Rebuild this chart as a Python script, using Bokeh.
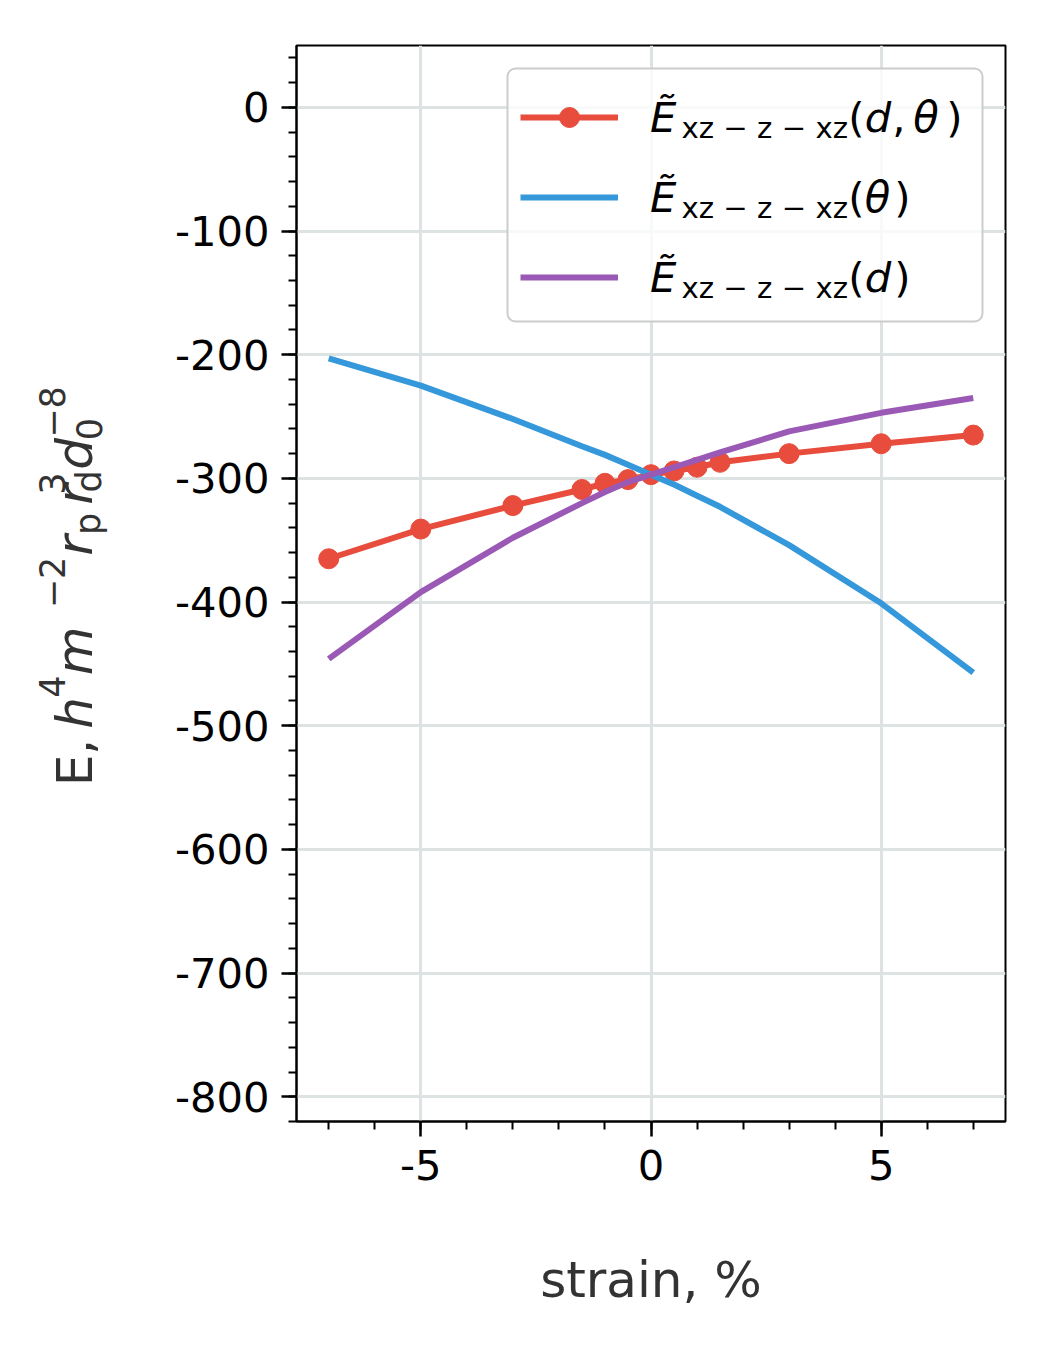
import math
from bokeh.plotting import figure
from bokeh.layouts import row
from bokeh.models import (Label, Legend, LegendItem, SingleIntervalTicker, Range1d,
                          ColumnDataSource, PrintfTickFormatter, BoxAnnotation)
from bokeh.core.properties import value
from bokeh.embed import file_html
from bokeh.resources import INLINE

# ---------------- data ----------------
strain = [-7, -5, -3, -1.5, -1, -0.5, 0, 0.5, 1, 1.5, 3, 5, 7]
E_d_theta = [-365, -341, -322, -309, -304, -301, -297, -294, -291, -287, -280, -272, -265]
E_theta = [-203, -225, -252, -274, -281, -289, -297, -305, -314, -323, -354, -401, -457]
E_d = [-446, -392, -348, -320, -311, -303, -297, -291, -285, -279, -262, -247, -235]

x_label = "strain, %"
legend_sub = "xz − z − xz"

RED, BLUE, PURPLE = "#e74c3c", "#3498db", "#9b59b6"
FONT = "DejaVu Sans"

X0, X1 = -7.7, 7.7
Y0, Y1 = -820, 50

W_TOTAL, H_TOTAL = 1040, 1340
W_LEFT = 140
# frame placement on the page (px)
FL, FT, FW, FH = 296, 45, 709, 1076
BASE_SHIFT = 0.36  # bokeh draws "alphabetic" text this fraction of the size lower


def dx(px):
    return X0 + (px - FL) / FW * (X1 - X0)


def dy(py):
    return Y1 - (py - FT) / FH * (Y1 - Y0)


p = figure(width=W_TOTAL - W_LEFT, height=H_TOTAL, x_range=Range1d(X0, X1),
           y_range=Range1d(Y0, Y1), output_backend="svg", toolbar_location=None,
           min_border_left=FL - W_LEFT, min_border_right=W_TOTAL - FL - FW,
           min_border_top=FT, min_border_bottom=H_TOTAL - FT - FH)
p.background_fill_color = "white"
p.border_fill_color = "white"
p.outline_line_color = "black"
p.outline_line_width = 2
p.outline_line_alpha = 1

xt = SingleIntervalTicker(interval=5, num_minor_ticks=5)
yt = SingleIntervalTicker(interval=100, num_minor_ticks=5)
p.xaxis.ticker = xt
p.yaxis.ticker = yt
p.xgrid.ticker = xt
p.ygrid.ticker = yt
for g in (p.xgrid, p.ygrid):
    g.grid_line_color = "#dde2e2"
    g.grid_line_width = 3

for ax in (p.xaxis, p.yaxis):
    ax.formatter = PrintfTickFormatter(format="%d")
    ax.axis_line_color = "black"
    ax.axis_line_width = 2
    ax.major_tick_line_color = "black"
    ax.major_tick_line_width = 2.5
    ax.minor_tick_line_color = "black"
    ax.minor_tick_line_width = 2
    ax.major_tick_out = 15
    ax.major_tick_in = 0
    ax.minor_tick_out = 8
    ax.minor_tick_in = 0
    ax.major_label_text_font = FONT
    ax.major_label_text_font_size = "41.7px"
    ax.major_label_text_color = "black"

p.xaxis.major_label_standoff = 13
p.yaxis.major_label_standoff = 12
p.xaxis.axis_label = x_label
p.xaxis.axis_label_text_font = FONT
p.xaxis.axis_label_text_font_size = "50px"
p.xaxis.axis_label_text_font_style = "normal"
p.xaxis.axis_label_text_color = "#333333"
p.xaxis.axis_label_standoff = 68

src = ColumnDataSource(dict(x=strain, a=E_d_theta, b=E_theta, c=E_d))
r_line = p.line("x", "a", source=src, line_color=RED, line_width=6)
r_dots = p.scatter("x", "a", source=src, size=20, fill_color=RED, line_color=RED)
b_line = p.line("x", "b", source=src, line_color=BLUE, line_width=6)
c_line = p.line("x", "c", source=src, line_color=PURPLE, line_width=6)

# legend frame (drawn separately so that the label pieces sit above it)
LB_L, LB_R, LB_T, LB_B = 507, 982, 68, 321
p.add_layout(BoxAnnotation(left=dx(LB_L), right=dx(LB_R), top=dy(LB_T), bottom=dy(LB_B),
                           fill_color="white", fill_alpha=0.8,
                           line_color="#cccccc", line_width=2, line_alpha=1,
                           border_radius=8, level="annotation"))

legend = Legend(items=[
    LegendItem(label=value("Ẽ"), renderers=[r_line, r_dots]),
    LegendItem(label=value("Ẽ"), renderers=[b_line]),
    LegendItem(label=value("Ẽ"), renderers=[c_line]),
], location="top_right", margin=20, padding=12, spacing=0,
    glyph_width=98, glyph_height=50, label_height=80, label_width=323, label_standoff=32,
    label_text_font=FONT, label_text_font_size="41.7px", label_text_font_style="italic",
    label_text_color="black",
    border_line_alpha=0, background_fill_alpha=0)
p.add_layout(legend)


def add_text(fig, txt, x, y, size, style="normal", align="left", angle=0.0, color="black"):
    fig.add_layout(Label(x=x, y=y, x_units="data", y_units="data", text=txt,
                         text_font=FONT, text_font_size=f"{size}px", text_font_style=style,
                         text_color=color, text_align=align, text_baseline="alphabetic",
                         angle=angle, level="overlay"))


# legend label remainders (subscripts and arguments)
rows = [
    (132, [("(", "normal", 856), ("d", "italic", 877.5), (",", "normal", 898.5),
           ("θ", "italic", 925.5), (")", "normal", 954)]),
    (212, [("(", "normal", 856), ("θ", "italic", 877), (")", "normal", 902)]),
    (292, [("(", "normal", 856), ("d", "italic", 877.5), (")", "normal", 902)]),
]
for base, parts in rows:
    add_text(p, legend_sub, dx(681), dy(base + 6 - BASE_SHIFT * 29.2), 29.2)
    for t, st, cx in parts:
        add_text(p, t, dx(cx), dy(base - BASE_SHIFT * 41.7), 41.7, style=st, align="center")

# left strip holding the rotated y-axis label: E, h^4 m^-2 r_p r_d^3 d_0^-8
q = figure(width=W_LEFT, height=H_TOTAL, x_range=Range1d(0, W_LEFT),
           y_range=Range1d(FT + FH, FT), x_axis_type=None, y_axis_type=None,
           output_backend="svg", toolbar_location=None, min_border=0)
q.outline_line_color = None
q.background_fill_color = "white"
q.border_fill_color = "white"
q.grid.visible = False

YL = "#333333"
ylab = [
    ("E,", "normal", 50, 92, 762),
    ("h", "italic", 50, 92, 712.5),
    ("4", "normal", 35, 64, 686),
    ("m", "italic", 50, 92, 650.5),
    ("−2", "normal", 35, 64, 582),
    ("r", "italic", 50, 92, 545),
    ("p", "normal", 35, 100, 523.5),
    ("r", "italic", 50, 92, 494),
    ("d", "normal", 35, 101, 481),
    ("3", "normal", 35, 64, 483),
    ("d", "italic", 50, 92, 453.5),
    ("0", "normal", 35, 101, 428.5),
    ("−8", "normal", 35, 64, 411.5),
]
for t, st, sz, bx, cy in ylab:
    add_text(q, t, bx - BASE_SHIFT * sz, cy, sz, style=st, align="center",
             angle=math.pi / 2, color=YL)

layout = row(q, p)
open("out.html", "w").write(file_html(layout, INLINE))
